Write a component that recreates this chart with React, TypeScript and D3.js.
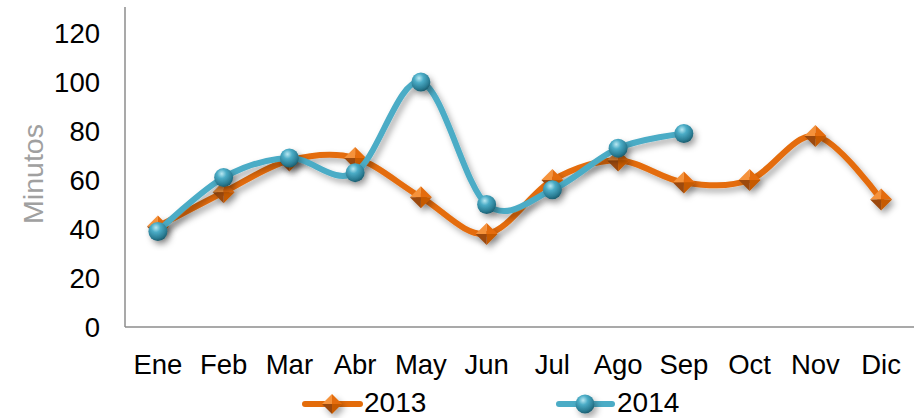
import React from "react";
import * as d3 from "d3";

const months = ["Ene", "Feb", "Mar", "Abr", "May", "Jun", "Jul", "Ago", "Sep", "Oct", "Nov", "Dic"];
const values2013 = [41, 55, 68, 69, 53, 38, 60, 68, 59, 60, 78, 52];
const values2014 = [39, 61, 69, 63, 100, 50, 56, 73, 79];
const yTicks = [0, 20, 40, 60, 80, 100, 120];

const W = 914;
const H = 418;
const FONT = "'Liberation Sans', Arial, sans-serif";
const ORANGE = "#E46C0A";
const BLUE = "#4BACC6";

function Diamond({ x, y, r }: { x: number; y: number; r: number }) {
  const t = [x, y - r], rt = [x + r, y], b = [x, y + r], l = [x - r, y];
  const tri = (a: number[], c: number[]) => `M${x},${y}L${a[0]},${a[1]}L${c[0]},${c[1]}Z`;
  return (
    <g filter="url(#shadow)">
      <path d={tri(l, t)} fill="#F5923A" />
      <path d={tri(t, rt)} fill="#E46C0A" />
      <path d={tri(rt, b)} fill="#C65A06" />
      <path d={tri(b, l)} fill="#9C4A0E" />
    </g>
  );
}

function Sphere({ x, y, r }: { x: number; y: number; r: number }) {
  return <circle cx={x} cy={y} r={r} fill="url(#sphereGrad)" filter="url(#shadow)" />;
}

export default function App() {
  const x = d3.scaleBand<string>().domain(months).range([125, 914]);
  const y = d3.scaleLinear().domain([0, 120]).range([327, 33]);
  const cx = (m: string) => (x(m) as number) + x.bandwidth() / 2;

  const line = d3
    .line<number>()
    .x((_, i) => cx(months[i]))
    .y((d) => y(d))
    .curve(d3.curveCardinal.tension(0));

  return (
    <svg width={W} height={H} style={{ position: "absolute", left: 0, top: 0 }}>
      <defs>
        <filter id="shadow" x="-50%" y="-50%" width="200%" height="200%">
          <feDropShadow dx="3" dy="4" stdDeviation="3" floodColor="#000" floodOpacity="0.33" />
        </filter>
        <radialGradient id="sphereGrad" cx="40%" cy="30%" r="70%">
          <stop offset="0%" stopColor="#B9E8F2" />
          <stop offset="35%" stopColor="#4BACC6" />
          <stop offset="80%" stopColor="#2A7C93" />
          <stop offset="100%" stopColor="#1D5E70" />
        </radialGradient>
      </defs>
      <rect width={W} height={H} fill="#fff" />

      {/* axes */}
      <line x1={125} x2={125} y1={7} y2={y(0)} stroke="#8c8c8c" strokeWidth={1.5} />
      <line x1={125} x2={914} y1={y(0)} y2={y(0)} stroke="#8c8c8c" strokeWidth={1.5} />

      {yTicks.map((t) => (
        <text key={t} x={100} y={y(t)} dy="0.36em" textAnchor="end" fontFamily={FONT} fontSize={27.5} fill="#000">
          {t}
        </text>
      ))}
      {months.map((m) => (
        <text key={m} x={cx(m)} y={374} textAnchor="middle" fontFamily={FONT} fontSize={27.5} fill="#000">
          {m}
        </text>
      ))}
      <text
        transform={`translate(43,174) rotate(-90)`}
        textAnchor="middle"
        fontFamily={FONT}
        fontSize={28.5}
        fill="#A0A0A0"
      >
        Minutos
      </text>

      {/* 2013 */}
      <path d={line(values2013) || ""} fill="none" stroke={ORANGE} strokeWidth={6} strokeLinecap="round" filter="url(#shadow)" />
      {values2013.map((v, i) => (
        <Diamond key={i} x={cx(months[i])} y={y(v)} r={11} />
      ))}

      {/* 2014 */}
      <path d={line(values2014) || ""} fill="none" stroke={BLUE} strokeWidth={6} strokeLinecap="round" filter="url(#shadow)" />
      {values2014.map((v, i) => (
        <Sphere key={i} x={cx(months[i])} y={y(v)} r={9.5} />
      ))}

      {/* legend */}
      <line x1={305} x2={360} y1={404} y2={404} stroke={ORANGE} strokeWidth={6} strokeLinecap="round" />
      <Diamond x={332} y={404} r={10} />
      <text x={364} y={412} fontFamily={FONT} fontSize={28} fill="#000">2013</text>

      <line x1={559} x2={612} y1={404} y2={404} stroke={BLUE} strokeWidth={6} strokeLinecap="round" />
      <Sphere x={585} y={404} r={9.5} />
      <text x={617} y={412} fontFamily={FONT} fontSize={28} fill="#000">2014</text>
    </svg>
  );
}
